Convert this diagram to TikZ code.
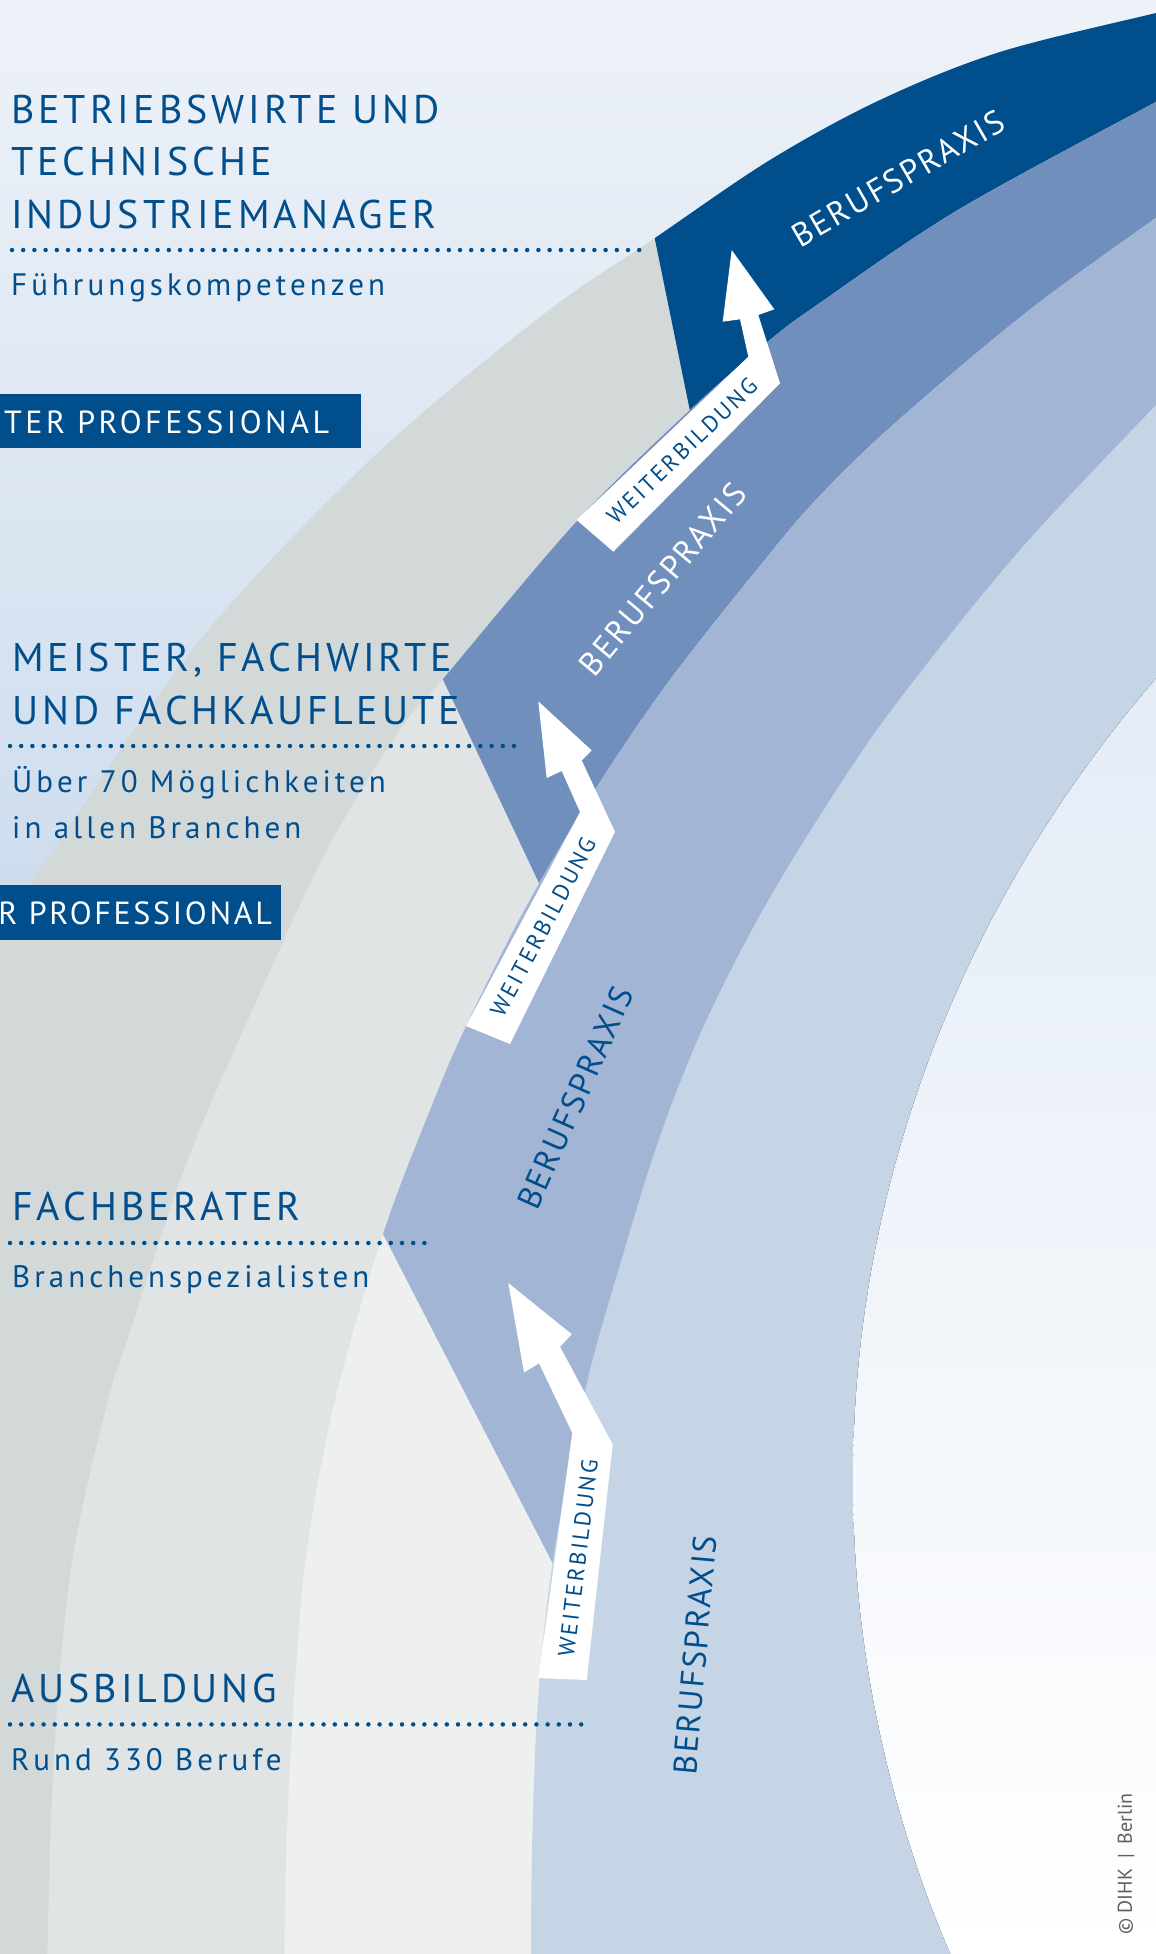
\documentclass[tikz,border=0pt]{standalone}
\usepackage{fontspec}
\setmainfont{PT Sans}
\usepackage{tikz}

\definecolor{dihkblue}{RGB}{1,78,140}
\definecolor{bandmid}{RGB}{112,143,189}
\definecolor{bandlight}{RGB}{162,181,213}
\definecolor{bandpale}{RGB}{197,213,230}
\definecolor{greydark}{RGB}{211,217,217}
\definecolor{greymid}{RGB}{225,228,228}
\definecolor{greylight}{RGB}{238,240,240}
\definecolor{skytop}{RGB}{238,242,248}
\definecolor{skylow}{RGB}{203,219,237}
\definecolor{coretop}{RGB}{228,236,246}
\definecolor{corehalf}{RGB}{247,249,252}
\definecolor{creditgrey}{RGB}{95,95,95}

\begin{document}
\begin{tikzpicture}[
    x=1pt, y=-1pt,
    heading/.style={anchor=base west, inner sep=0pt, text=dihkblue,
      font=\fontsize{40}{40}\selectfont\addfontfeatures{LetterSpace=10}},
    subline/.style={anchor=base west, inner sep=0pt, text=dihkblue,
      font=\fontsize{31}{31}\selectfont\addfontfeatures{LetterSpace=13}},
    dotline/.style={draw=dihkblue, line width=4.5pt, line cap=round,
      dash pattern=on 0pt off 11.2pt},
    badge/.style={fill=dihkblue, inner sep=0pt, anchor=north west},
    badgetext/.style={anchor=base west, inner sep=0pt, text=white,
      font=\fontsize{32}{32}\selectfont\addfontfeatures{LetterSpace=11}},
    badgeshort/.style={anchor=base east, inner sep=0pt, text=white,
      font=\fontsize{32}{32}\selectfont\addfontfeatures{LetterSpace=8.5}},
    praxis/.style={inner sep=0pt,
      font=\fontsize{33}{33}\selectfont\addfontfeatures{LetterSpace=6.5}},
    weiter/.style={inner sep=0pt, text=dihkblue,
      font=\fontsize{23}{23}\selectfont\addfontfeatures{LetterSpace=11}},
    upstep/.style={fill=white},
  ]
  \clip (0,0) rectangle (1156,1954);
  \fill[top color=skytop, bottom color=skylow] (0,0) rectangle (1156,960);

  \begin{scope}
    \clip plot[smooth, tension=.55] coordinates {(1175,8) (1156,13) (1000,52) (880,100)
      (770,160) (655,238) (540,317) (370,460) (200,640) (53,850) (-20,955)}
      -- (-20,1990) -- (1190,1990) -- cycle;
    \fill[greydark] (-20,-20) rectangle (1200,2000);
    \fill[dihkblue] (602,-20) -- (760,754) -- (1200,754) -- (1200,-20) -- cycle;
  \end{scope}

  \begin{scope}
    \clip plot[smooth, tension=.55] coordinates {(1175,92) (1156,102) (958,210) (820,303)
      (770,340) (690,410) (577,521) (443,679) (400,730) (327,850) (257,1000)
      (187,1162) (127,1341) (108,1400) (74,1550) (59,1683) (51,1820) (47,1975)}
      -- (1190,1990) -- cycle;
    \fill[greymid] (-20,-20) rectangle (1200,2000);
    \fill[bandmid] (297,370) -- (637,1091) -- (1200,1091) -- (1200,-20) -- (297,-20) -- cycle;
  \end{scope}

  \begin{scope}
    \clip plot[smooth, tension=.55] coordinates {(1175,205) (1156,218) (1027,312)
      (893,425) (816,500) (760,566) (670,680) (597,787) (527,905) (466,1026)
      (430,1110) (383,1234) (335,1400) (307,1550) (295,1683) (287,1830) (284,1975)}
      -- (1190,1990) -- cycle;
    \fill[greylight] (-20,-20) rectangle (1200,2000);
    \fill[bandlight] (180,840) -- (687,1824) -- (1200,1824) -- (1200,-20) -- (180,-20) -- cycle;
  \end{scope}

  \fill[bandpale] plot[smooth, tension=.55] coordinates {(1175,386) (1156,405) (1020,550)
    (899,700) (830,800) (760,915) (702,1030) (658,1142) (620,1265) (586,1387)
    (553,1560) (538,1700) (532,1850) (531,1975)}
    -- (1190,1990) -- cycle;

  \begin{scope}
    \clip (2243,1480) ellipse [x radius=1390pt, y radius=1286pt];
    \fill[top color=coretop, middle color=corehalf, bottom color=white]
      (840,670) rectangle (1160,1960);
  \end{scope}

  \fill[upstep] (576.7,520) -- (748.3,356.7) -- (740,319.3) -- (722.7,321.7)
    -- (731.7,250) -- (774.3,309.3) -- (758.3,315) -- (780,383.3) -- (613.3,551.7) -- cycle;
  \fill[upstep] (466,1026) -- (580,812) -- (561.7,771) -- (546.7,778)
    -- (538.3,701.4) -- (591.7,750.4) -- (581.7,760.4) -- (615,831.8) -- (510,1044) -- cycle;
  \fill[upstep] (538.3,1678) -- (572.3,1433) -- (539,1363.3) -- (524,1372.5)
    -- (508.3,1283) -- (571.7,1334.2) -- (560,1346.8) -- (612.7,1444.4) -- (586.7,1680) -- cycle;

  \node[praxis, text=white, rotate=30] (praxis4) at (898,178.5) {BERUFSPRAXIS};
  \node[praxis, text=white, rotate=50] (praxis3) at (662.5,579) {BERUFSPRAXIS};
  \node[praxis, text=dihkblue, rotate=66] (praxis2) at (575.3,1097.8) {BERUFSPRAXIS};
  \node[praxis, text=dihkblue, rotate=85] (praxis1) at (695,1655) {BERUFSPRAXIS};

  \node[weiter, rotate=44] (weiter3) at (682,451) {WEITERBILDUNG};
  \node[weiter, rotate=62] (weiter2) at (543,927) {WEITERBILDUNG};
  \node[weiter, rotate=83] (weiter1) at (578,1558) {WEITERBILDUNG};

  \node[badge, minimum width=361pt, minimum height=54pt] (masterbox) at (0,393.3) {};
  \node[badgetext] (mastertext) at (4,433.5) {TER PROFESSIONAL};
  \node[badge, minimum width=281pt, minimum height=54.5pt] (bachelorbox) at (0,884.8) {};
  \node[badgeshort] (bachelortext) at (272,924) {R PROFESSIONAL};

  \node[heading] (bw1) at (11,123.3) {BETRIEBSWIRTE UND};
  \node[heading] (bw2) at (11,175.5) {TECHNISCHE};
  \node[heading] (bw3) at (11,228.3) {INDUSTRIEMANAGER};
  \node[subline] (bw4) at (11,295.5) {Führungskompetenzen};
  \coordinate (bwa) at (12,250);
  \coordinate (bwb) at (650,250);
  \draw[dotline] (bwa) -- (bwb);

  \node[heading] (mf1) at (12,671.5) {MEISTER, FACHWIRTE};
  \node[heading] (mf2) at (12,724) {UND FACHKAUFLEUTE};
  \node[subline] (mf3) at (12,792) {Über 70 Möglichkeiten};
  \node[subline] (mf4) at (12,838.5) {in allen Branchen};
  \coordinate (mfa) at (10,746);
  \coordinate (mfb) at (516,746);
  \draw[dotline] (mfa) -- (mfb);

  \node[heading] (fb1) at (12,1220.5) {FACHBERATER};
  \node[subline] (fb2) at (12,1287.5) {Branchenspezialisten};
  \coordinate (fba) at (10,1243);
  \coordinate (fbb) at (430,1243);
  \draw[dotline] (fba) -- (fbb);

  \node[heading] (ab1) at (11,1702) {AUSBILDUNG};
  \node[subline] (ab2) at (11,1770) {Rund 330 Berufe};
  \coordinate (aba) at (10,1724.4);
  \coordinate (abb) at (583,1724.4);
  \draw[dotline] (aba) -- (abb);

  \node[rotate=90, inner sep=0pt, text=creditgrey,
    font=\fontsize{20}{20}\selectfont] (credit) at (1126,1864)
    {© DIHK\enspace|\enspace Berlin};
\end{tikzpicture}
\end{document}
